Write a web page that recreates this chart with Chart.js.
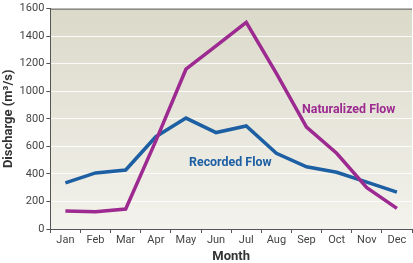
<!DOCTYPE html>
<html>
<head>
<meta charset="utf-8">
<script src="https://cdn.jsdelivr.net/npm/chart.js@4/dist/chart.umd.min.js"></script>
<style>
  html, body { margin: 0; padding: 0; background: #ffffff; }
  #wrap { width: 413px; height: 263px; position: relative; }
</style>
</head>
<body>
<div id="wrap"><canvas id="flowChart"></canvas></div>
<script>
const months = ['Jan', 'Feb', 'Mar', 'Apr', 'May', 'Jun', 'Jul', 'Aug', 'Sep', 'Oct', 'Nov', 'Dec'];
const naturalizedFlow = [130, 125, 145, 640, 1160, 1330, 1500, 1130, 740, 550, 300, 150];
const recordedFlow = [335, 407, 428, 670, 805, 700, 748, 550, 452, 412, 340, 268];
const yTicks = [0, 200, 400, 600, 800, 1000, 1200, 1400, 1600];

const labelFont = "Roboto, 'Noto Sans', sans-serif";
const purple = '#9d2a90';
const blue = '#1c5fa3';
const axisColor = '#555555';

// series labels sit inside the plot, anchored to data positions
const seriesLabels = [
  { text: 'Naturalized Flow', x: 7.85, y: 870, color: purple },
  { text: 'Recorded Flow', x: 4.1, y: 480, color: blue }
];

const plotDecor = {
  id: 'plotDecor',
  beforeDraw(chart) {
    const { ctx, chartArea: area } = chart;
    const gradient = ctx.createLinearGradient(0, area.top, 0, area.bottom);
    gradient.addColorStop(0, '#dbd9c9');
    gradient.addColorStop(1, '#f3f2ec');
    ctx.save();
    ctx.fillStyle = gradient;
    ctx.fillRect(area.left, area.top, area.right - area.left, area.bottom - area.top);
    ctx.restore();
  },
  afterDraw(chart) {
    const { ctx, chartArea: area, scales } = chart;
    ctx.save();
    ctx.strokeStyle = axisColor;
    ctx.lineWidth = 1;
    ctx.beginPath();
    ctx.moveTo(area.left, area.top + 0.5);
    ctx.lineTo(area.right, area.top + 0.5);
    ctx.stroke();

    ctx.font = 'bold 13.5px ' + labelFont;
    ctx.textBaseline = 'middle';
    ctx.textAlign = 'left';
    seriesLabels.forEach(label => {
      const x = scales.x.getPixelForValue(label.x);
      const y = scales.y.getPixelForValue(label.y);
      ctx.save();
      ctx.translate(x, y);
      ctx.scale(0.92, 1);
      ctx.fillStyle = label.color;
      ctx.fillText(label.text, 0, 0);
      ctx.restore();
    });
    ctx.restore();
  }
};

new Chart(document.getElementById('flowChart'), {
  type: 'line',
  data: {
    labels: months,
    datasets: [
      {
        label: 'Naturalized Flow',
        data: naturalizedFlow,
        borderColor: purple,
        backgroundColor: purple,
        borderWidth: 3.5,
        borderJoinStyle: 'miter',
        pointRadius: 0,
        tension: 0
      },
      {
        label: 'Recorded Flow',
        data: recordedFlow,
        borderColor: blue,
        backgroundColor: blue,
        borderWidth: 3.5,
        borderJoinStyle: 'miter',
        pointRadius: 0,
        tension: 0
      }
    ]
  },
  options: {
    animation: false,
    responsive: true,
    maintainAspectRatio: false,
    layout: {
      padding: { top: 8, right: 1, left: 1, bottom: 0 }
    },
    plugins: {
      legend: { display: false },
      tooltip: { enabled: false }
    },
    scales: {
      x: {
        offset: true,
        grid: {
          offset: true,
          drawOnChartArea: false,
          color: axisColor,
          tickLength: 4
        },
        border: { color: axisColor, width: 1 },
        ticks: {
          color: '#444444',
          padding: 2,
          font: { family: labelFont, size: 11, lineHeight: 1 }
        },
        title: {
          display: true,
          text: 'Month',
          color: '#333333',
          padding: { top: 2, bottom: 0 },
          font: { family: labelFont, size: 13, weight: 'bold', lineHeight: 1 }
        }
      },
      y: {
        min: 0,
        max: 1600,
        afterBuildTicks: axis => { axis.ticks = yTicks.map(value => ({ value })); },
        grid: {
          color: 'rgba(255,255,255,0.85)',
          lineWidth: 1,
          tickColor: axisColor,
          tickLength: 4
        },
        border: { color: axisColor, width: 1 },
        ticks: {
          color: '#444444',
          padding: 2,
          callback: value => String(value),
          font: { family: labelFont, size: 11 }
        },
        title: {
          display: true,
          text: 'Discharge (m³/s)',
          color: '#333333',
          padding: { top: 0, bottom: 1 },
          font: { family: labelFont, size: 13, weight: 'bold' }
        }
      }
    }
  },
  plugins: [plotDecor]
});
</script>
</body>
</html>
